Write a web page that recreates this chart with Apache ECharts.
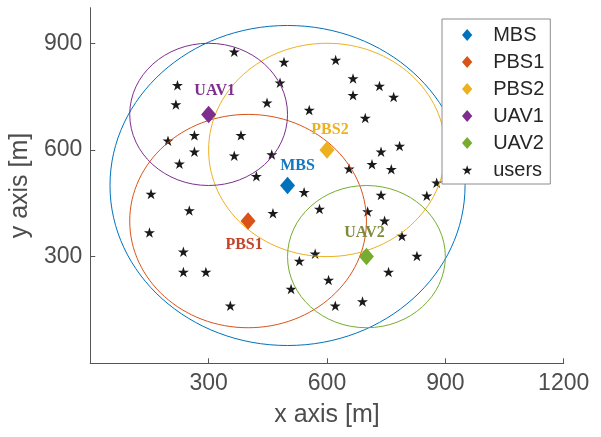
<!DOCTYPE html>
<html>
<head>
<meta charset="utf-8">
<script src="https://cdn.jsdelivr.net/npm/echarts@6/dist/echarts.min.js"></script>
<style>html,body{margin:0;padding:0;background:#fff}#c{width:601px;height:437px}</style>
</head>
<body>
<div id="c"></div>
<script>
// ---- data ----
const baseNames = ['MBS', 'PBS1', 'PBS2', 'UAV1', 'UAV2'];
const baseX = [500, 400, 600, 300, 700];
const baseY = [500, 400, 600, 700, 300];
const coverRadius = [450, 300, 300, 200, 200];
const userX = [365, 491, 622, 666, 733, 666, 769, 481, 221, 217, 448, 382, 264, 197, 264, 365, 226, 460, 421, 154,
               251, 463, 555, 697, 784, 737, 714, 763, 656, 878, 542, 737, 853, 581, 703, 746, 790, 570, 530, 828,
               756, 604, 509, 621, 690, 150, 236, 236, 293, 355];
const userY = [876, 847, 853, 801, 780, 754, 749, 789, 782, 728, 733, 641, 641, 626, 595, 584, 561, 587, 526, 476,
               430, 422, 712, 690, 611, 595, 560, 546, 547, 508, 481, 473, 471, 434, 427, 401, 358, 308, 288, 302,
               257, 234, 209, 162, 174, 368, 314, 257, 257, 162];
const xTicks = [300, 600, 900, 1200];
const yTicks = [300, 600, 900];
const xName = 'x axis [m]';
const yName = 'y axis [m]';
const usersName = 'users';

// ---- styles ----
const colors = ['#0072BD', '#D95319', '#EDB120', '#7E2F8E', '#77AC30'];
const labelColors = ['#1478C0', '#C2452A', '#EDB120', '#7E2F8E', '#7F8A3C'];
const labelOffsets = [[10, -20], [-4, 24], [3, -20], [6, -24], [-2, -24]];
const diamondPath = 'path://M50 0 L93 50 L50 100 L7 50 Z';
const starPath = 'path://M100 0 L122.45 69.1 L195.11 69.1 L136.33 111.8 L158.78 180.9 L100 138.2 L41.22 180.9 L63.67 111.8 L4.89 69.1 L77.55 69.1 Z';
const starLegendPath = 'path://M100 -22 L100 -22 M100 0 L122.45 69.1 L195.11 69.1 L136.33 111.8 L158.78 180.9 L100 138.2 L41.22 180.9 L63.67 111.8 L4.89 69.1 L77.55 69.1 Z M100 203 L100 203';

const chart = echarts.init(document.getElementById('c'), null, {renderer: 'canvas'});

const series = [];
// users
series.push({
  name: usersName,
  type: 'scatter',
  symbol: starPath,
  symbolSize: [11, 10.5],
  itemStyle: {color: '#1a1a1a', opacity: 1},
  data: userX.map((x, i) => [x, userY[i]]),
  z: 2
});
// coverage circles
series.push({
  name: 'coverage',
  type: 'custom',
  coordinateSystem: 'cartesian2d',
  data: baseX.map((x, i) => [x, baseY[i], coverRadius[i]]),
  renderItem: function (params, api) {
    const c = api.coord([api.value(0), api.value(1)]);
    const s = api.size([api.value(2), api.value(2)]);
    return {
      type: 'ellipse',
      shape: {cx: c[0], cy: c[1], rx: s[0], ry: s[1]},
      style: {fill: 'none', stroke: colors[params.dataIndex], lineWidth: 1}
    };
  },
  silent: true,
  z: 3
});
// base stations
baseNames.forEach((n, i) => {
  series.push({
    name: n,
    type: 'scatter',
    symbol: diamondPath,
    symbolSize: [15, 17.5],
    itemStyle: {color: colors[i], opacity: 1},
    data: [[baseX[i], baseY[i]]],
    label: {
      show: true,
      position: 'inside',
      offset: labelOffsets[i],
      formatter: n,
      fontFamily: '"Liberation Serif", "Times New Roman", serif',
      fontWeight: 'bold',
      fontSize: 16,
      color: labelColors[i],
      opacity: 1
    },
    z: 4
  });
});

const labelFont = '"Liberation Sans", Arial, Helvetica, sans-serif';

chart.setOption({
  animation: false,
  backgroundColor: '#fff',
  grid: {left: 90, right: 37.3, top: 7.7, bottom: 73.7, containLabel: false},
  xAxis: {
    type: 'value', min: 0, max: 1200, interval: 300,
    name: xName, nameLocation: 'middle', nameGap: 39,
    nameTextStyle: {fontFamily: labelFont, fontSize: 25, color: '#4d4d4d'},
    axisLine: {show: true, lineStyle: {color: '#555', width: 1}},
    axisTick: {show: true, inside: true, length: 5, lineStyle: {color: '#555'}, customValues: [0].concat(xTicks)},
    axisLabel: {fontFamily: labelFont, fontSize: 23, color: '#4d4d4d', margin: 9, customValues: xTicks,
      formatter: v => xTicks.indexOf(v) >= 0 ? String(v) : ''},
    splitLine: {show: false}
  },
  yAxis: {
    type: 'value', min: 0, max: 1000, interval: 300,
    name: yName, nameLocation: 'middle', nameGap: 52,
    nameTextStyle: {fontFamily: labelFont, fontSize: 25, color: '#4d4d4d'},
    axisLine: {show: true, lineStyle: {color: '#555', width: 1}},
    axisTick: {show: true, inside: true, length: 5, lineStyle: {color: '#555'}, customValues: [0].concat(yTicks)},
    axisLabel: {fontFamily: labelFont, fontSize: 23, color: '#4d4d4d', margin: 8, customValues: yTicks,
      formatter: v => yTicks.indexOf(v) >= 0 ? String(v) : ''},
    splitLine: {show: false}
  },
  legend: {
    orient: 'vertical',
    left: 442, top: 19,
    padding: [6, 6, 4, 20],
    itemWidth: 12, itemHeight: 12, itemGap: 7,
    symbolKeepAspect: true,
    backgroundColor: '#fff',
    borderColor: '#8c8c8c', borderWidth: 1, borderRadius: 0,
    textStyle: {fontFamily: labelFont, fontSize: 20, color: '#262626', lineHeight: 20, padding: [0, 0, 0, 15]},
    data: baseNames.map(n => ({name: n, icon: diamondPath})).concat([{name: usersName, icon: starLegendPath}])
  },
  series: series
});
</script>
</body>
</html>
